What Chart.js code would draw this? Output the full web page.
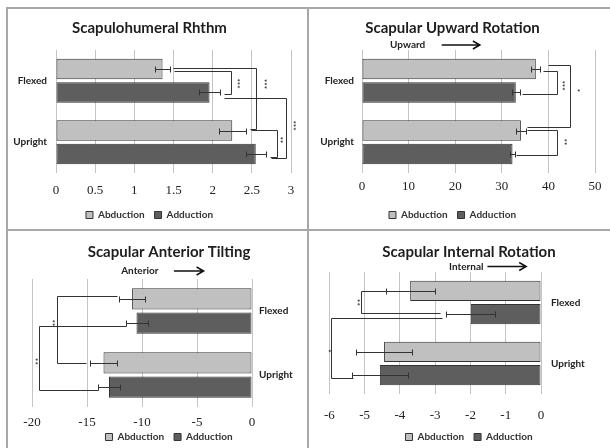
<!DOCTYPE html>
<html>
<head>
<meta charset="utf-8">
<script src="https://cdn.jsdelivr.net/npm/chart.js@4.4.1/dist/chart.umd.min.js"></script>
<style>
  html, body { margin: 0; padding: 0; background: #fff; }
  #page { position: relative; width: 610px; height: 448px; overflow: hidden; }
  .rule { position: absolute; background: #a8a8a8; }
  .panel { position: absolute; }
</style>
</head>
<body>
<div id="page">
  <div class="rule" style="left:6px;top:7px;width:604px;height:2px"></div>
  <div class="rule" style="left:6px;top:7px;width:2px;height:441px"></div>
  <div class="rule" style="left:307px;top:7px;width:2px;height:441px"></div>
  <div class="rule" style="left:6px;top:229px;width:604px;height:2px"></div>
  <div class="panel" style="left:8px;top:10px;width:298px;height:220px"><canvas id="rhythm"></canvas></div>
  <div class="panel" style="left:310px;top:10px;width:300px;height:220px"><canvas id="upward"></canvas></div>
  <div class="panel" style="left:8px;top:232px;width:298px;height:220px"><canvas id="tilt"></canvas></div>
  <div class="panel" style="left:310px;top:232px;width:300px;height:220px"><canvas id="internal"></canvas></div>
</div>
<script>
// data
const categories = ['Flexed', 'Upright'];
const seriesNames = ['Abduction', 'Adduction'];

const rhythmAbd = [1.36, 2.25];
const rhythmAdd = [1.96, 2.55];
const rhythmAbdErr = [0.09, 0.17];
const rhythmAddErr = [0.13, 0.13];
const rhythmTicks = [0, 0.5, 1, 1.5, 2, 2.5, 3];

const upwardAbd = [37.3, 34.1];
const upwardAdd = [33.0, 32.3];
const upwardAbdErr = [1.0, 1.0];
const upwardAddErr = [0.9, 0.6];
const upwardTicks = [0, 10, 20, 30, 40, 50];

const tiltAbd = [-10.9, -13.5];
const tiltAdd = [-10.5, -13.0];
const tiltAbdErr = [1.2, 1.2];
const tiltAddErr = [1.0, 1.0];
const tiltTicks = [-20, -15, -10, -5, 0];

const internalAbd = [-3.71, -4.45];
const internalAdd = [-1.99, -4.57];
const internalAbdErr = [0.69, 0.8];
const internalAddErr = [0.69, 0.79];
const internalTicks = [-6, -5, -4, -3, -2, -1, 0];

// significance brackets: a/b = [dataset, category], x values in axis units
const rhythmSig = [
  { a: [0, 0], b: [1, 0], xa: 1.51, xb: 2.14, xv: 2.24, label: '***', lx: 2.31, dya: 2, dyb: 1.6, ldy: 0.5 },
  { a: [0, 0], b: [0, 1], xa: 1.49, xb: 2.48, xv: 2.55, label: '***', lx: 2.65, dya: -1.4, dyb: -1.9, ldy: -15 },
  { a: [0, 1], b: [1, 1], xa: 2.49, xb: 2.73, xv: 2.82, label: '**', lx: 2.86, dya: -0.6, dyb: 3.4, ldy: -4 },
  { a: [1, 0], b: [1, 1], xa: 2.15, xb: 2.74, xv: 2.93, label: '***', lx: 3.02, dya: 5.3, dyb: 4.4, ldy: -3 }
];
const upwardSig = [
  { a: [0, 0], b: [1, 0], xa: 38.9, xb: 34.3, xv: 41.9, label: '***', lx: 42.9, dya: 1.6, dyb: 1.9, ldy: 2.5 },
  { a: [0, 0], b: [0, 1], xa: 40.0, xb: 35.4, xv: 44.7, label: '*', lx: 46.1, dya: -4.1, dyb: -3.9, ldy: -6 },
  { a: [0, 1], b: [1, 1], xa: 35.4, xb: 33.0, xv: 41.9, label: '**', lx: 43.2, dya: -0.6, dyb: 1.1, ldy: -1 }
];
const tiltSig = [
  { a: [0, 0], b: [0, 1], xa: -12.3, xb: -15.1, xv: -17.7, label: '**', lx: -18.2, dya: -3.1, dyb: 0.5, ldy: -7 },
  { a: [1, 0], b: [1, 1], xa: -11.5, xb: -14.0, xv: -19.4, label: '**', lx: -19.8, dya: 2.5, dyb: 2.5, ldy: 3 }
];
const internalSig = [
  { a: [0, 0], b: [1, 0], xa: -4.40, xb: -2.87, xv: -5.11, label: '**', lx: -5.23, dya: 0.4, dyb: -0.8, ldy: 0 },
  { a: [1, 0], b: [1, 1], xa: -2.80, xb: -5.32, xv: -5.95, label: '*', lx: -6.06, dya: 4.2, dyb: 2.9, ldy: 2.5 }
];

Chart.defaults.animation = false;
Chart.defaults.font.family = 'Lato';

const INK = '#333';

// error bars, brackets and the direction arrow
const extras = {
  id: 'extras',
  afterLayout(chart) {
    // tick labels sit partly under the legend box; let them draw unclipped
    chart.scales.x.bottom += 14;
  },
  afterDatasetsDraw(chart, args, opts) {
    const ctx = chart.ctx;
    const xs = chart.scales.x;
    const px = v => Math.round(xs.getPixelForValue(v)) + 0.5;
    const barY = (d, i) => chart.getDatasetMeta(d).data[i].y;
    ctx.save();
    ctx.strokeStyle = INK;
    ctx.fillStyle = INK;
    ctx.lineWidth = 1;

    (opts.errors || []).forEach((errs, d) => {
      chart.data.datasets[d].data.forEach((v, i) => {
        const y = Math.round(barY(d, i)) + 0.5;
        const x1 = px(v - errs[i]), x2 = px(v + errs[i]);
        ctx.beginPath();
        ctx.moveTo(x1, y); ctx.lineTo(x2, y);
        ctx.moveTo(x1, y - 3); ctx.lineTo(x1, y + 3);
        ctx.moveTo(x2, y - 3); ctx.lineTo(x2, y + 3);
        ctx.stroke();
      });
    });

    (opts.brackets || []).forEach(b => {
      const ya = Math.round(barY(b.a[0], b.a[1]) + b.dya) + 0.5;
      const yb = Math.round(barY(b.b[0], b.b[1]) + b.dyb) + 0.5;
      ctx.beginPath();
      ctx.moveTo(px(b.xa), ya);
      ctx.lineTo(px(b.xv), ya);
      ctx.lineTo(px(b.xv), yb);
      ctx.lineTo(px(b.xb), yb);
      ctx.stroke();
      ctx.save();
      ctx.translate(xs.getPixelForValue(b.lx), (ya + yb) / 2 + b.ldy);
      ctx.rotate(Math.PI / 2);
      ctx.font = 'bold 8px Lato';
      ctx.textAlign = 'center';
      ctx.textBaseline = 'middle';
      ctx.fillText(b.label, 0, 0);
      ctx.restore();
    });

    const n = opts.note;
    if (n) {
      const y = chart.chartArea.top + n.dy;
      ctx.font = 'bold 10px Lato';
      ctx.textAlign = 'center';
      ctx.textBaseline = 'middle';
      ctx.fillStyle = '#222';
      ctx.fillText(n.text, xs.getPixelForValue(n.x), y);
      const a1 = xs.getPixelForValue(n.x1), a2 = xs.getPixelForValue(n.x2);
      ctx.strokeStyle = '#111';
      ctx.lineWidth = 1.5;
      ctx.beginPath();
      ctx.moveTo(a1, y); ctx.lineTo(a2, y);
      ctx.moveTo(a2 - 7, y - 4); ctx.lineTo(a2, y); ctx.lineTo(a2 - 7, y + 4);
      ctx.stroke();
    }
    ctx.restore();
  }
};

function makeChart(id, c) {
  new Chart(document.getElementById(id), {
    type: 'bar',
    data: {
      labels: categories,
      datasets: [
        { label: seriesNames[0], data: c.abd, backgroundColor: '#c0c0c0' },
        { label: seriesNames[1], data: c.add, backgroundColor: '#5e5e5e' }
      ]
    },
    options: {
      indexAxis: 'y',
      responsive: true,
      maintainAspectRatio: false,
      datasets: {
        bar: {
          borderColor: '#333',
          borderWidth: 1,
          borderSkipped: false,
          categoryPercentage: 0.76,
          barPercentage: 0.88
        }
      },
      layout: { padding: c.pad },
      plugins: {
        title: {
          display: true,
          text: c.title,
          color: '#1e1e1e',
          font: { size: 15, weight: 'bold' },
          padding: c.titlePad
        },
        legend: {
          position: 'bottom',
          labels: {
            boxWidth: 7,
            boxHeight: 7,
            padding: 10,
            color: '#333',
            font: { size: 10, weight: 'bold' }
          }
        },
        tooltip: { enabled: false },
        extras: { errors: c.errors, brackets: c.brackets, note: c.note }
      },
      scales: {
        x: {
          min: c.ticks[0],
          max: c.ticks[c.ticks.length - 1],
          afterBuildTicks: s => { s.ticks = c.ticks.map(v => ({ value: v })); },
          afterFit: s => { s.height = c.xHeight; },
          grid: { color: '#c4c4c4', drawTicks: false },
          border: { display: false },
          ticks: {
            padding: c.xPad,
            color: '#222',
            callback: v => String(v),
            font: { family: 'Liberation Serif', size: 13 }
          }
        },
        y: {
          position: c.yPos,
          afterFit: s => { s.width = c.yWidth; },
          grid: { display: false, drawTicks: false },
          border: { display: false },
          ticks: {
            padding: c.yPad,
            color: '#222',
            font: { size: 10, weight: 'bold' }
          }
        }
      }
    },
    plugins: [extras]
  });
}

makeChart('rhythm', {
  title: 'Scapulohumeral Rhthm',
  abd: rhythmAbd, add: rhythmAdd, errors: [rhythmAbdErr, rhythmAddErr],
  ticks: rhythmTicks, brackets: rhythmSig,
  yPos: 'left', yWidth: 48, yPad: 9, xHeight: 27, xPad: 10,
  titlePad: { top: 9, bottom: 13 },
  pad: { left: 0, right: 15, top: 0, bottom: 0 }
});

makeChart('upward', {
  title: 'Scapular Upward Rotation',
  abd: upwardAbd, add: upwardAdd, errors: [upwardAbdErr, upwardAddErr],
  ticks: upwardTicks, brackets: upwardSig,
  note: { text: 'Upward', x: 9.8, x1: 17.1, x2: 25.3, dy: -5 },
  yPos: 'left', yWidth: 52, yPad: 8, xHeight: 27, xPad: 6,
  titlePad: { top: 9, bottom: 13 },
  pad: { left: 0, right: 15, top: 0, bottom: 0 }
});

makeChart('tilt', {
  title: 'Scapular Anterior Tilting',
  abd: tiltAbd, add: tiltAdd, errors: [tiltAbdErr, tiltAddErr],
  ticks: tiltTicks, brackets: tiltSig,
  note: { text: 'Anterior', x: -10.2, x1: -7.1, x2: -4.4, dy: -8 },
  yPos: 'right', yWidth: 54, yPad: 7, xHeight: 15, xPad: 8,
  titlePad: { top: 11, bottom: 18 },
  pad: { left: 24, right: 0, top: 0, bottom: 0 }
});

makeChart('internal', {
  title: 'Scapular Internal Rotation',
  abd: internalAbd, add: internalAdd, errors: [internalAbdErr, internalAddErr],
  ticks: internalTicks, brackets: internalSig,
  note: { text: 'Internal', x: -2.12, x1: -1.52, x2: -0.42, dy: -5.5 },
  yPos: 'right', yWidth: 69, yPad: 10, xHeight: 28, xPad: 14,
  titlePad: { top: 11, bottom: 11 },
  pad: { left: 18, right: 0, top: 0, bottom: 0 }
});
</script>
</body>
</html>
